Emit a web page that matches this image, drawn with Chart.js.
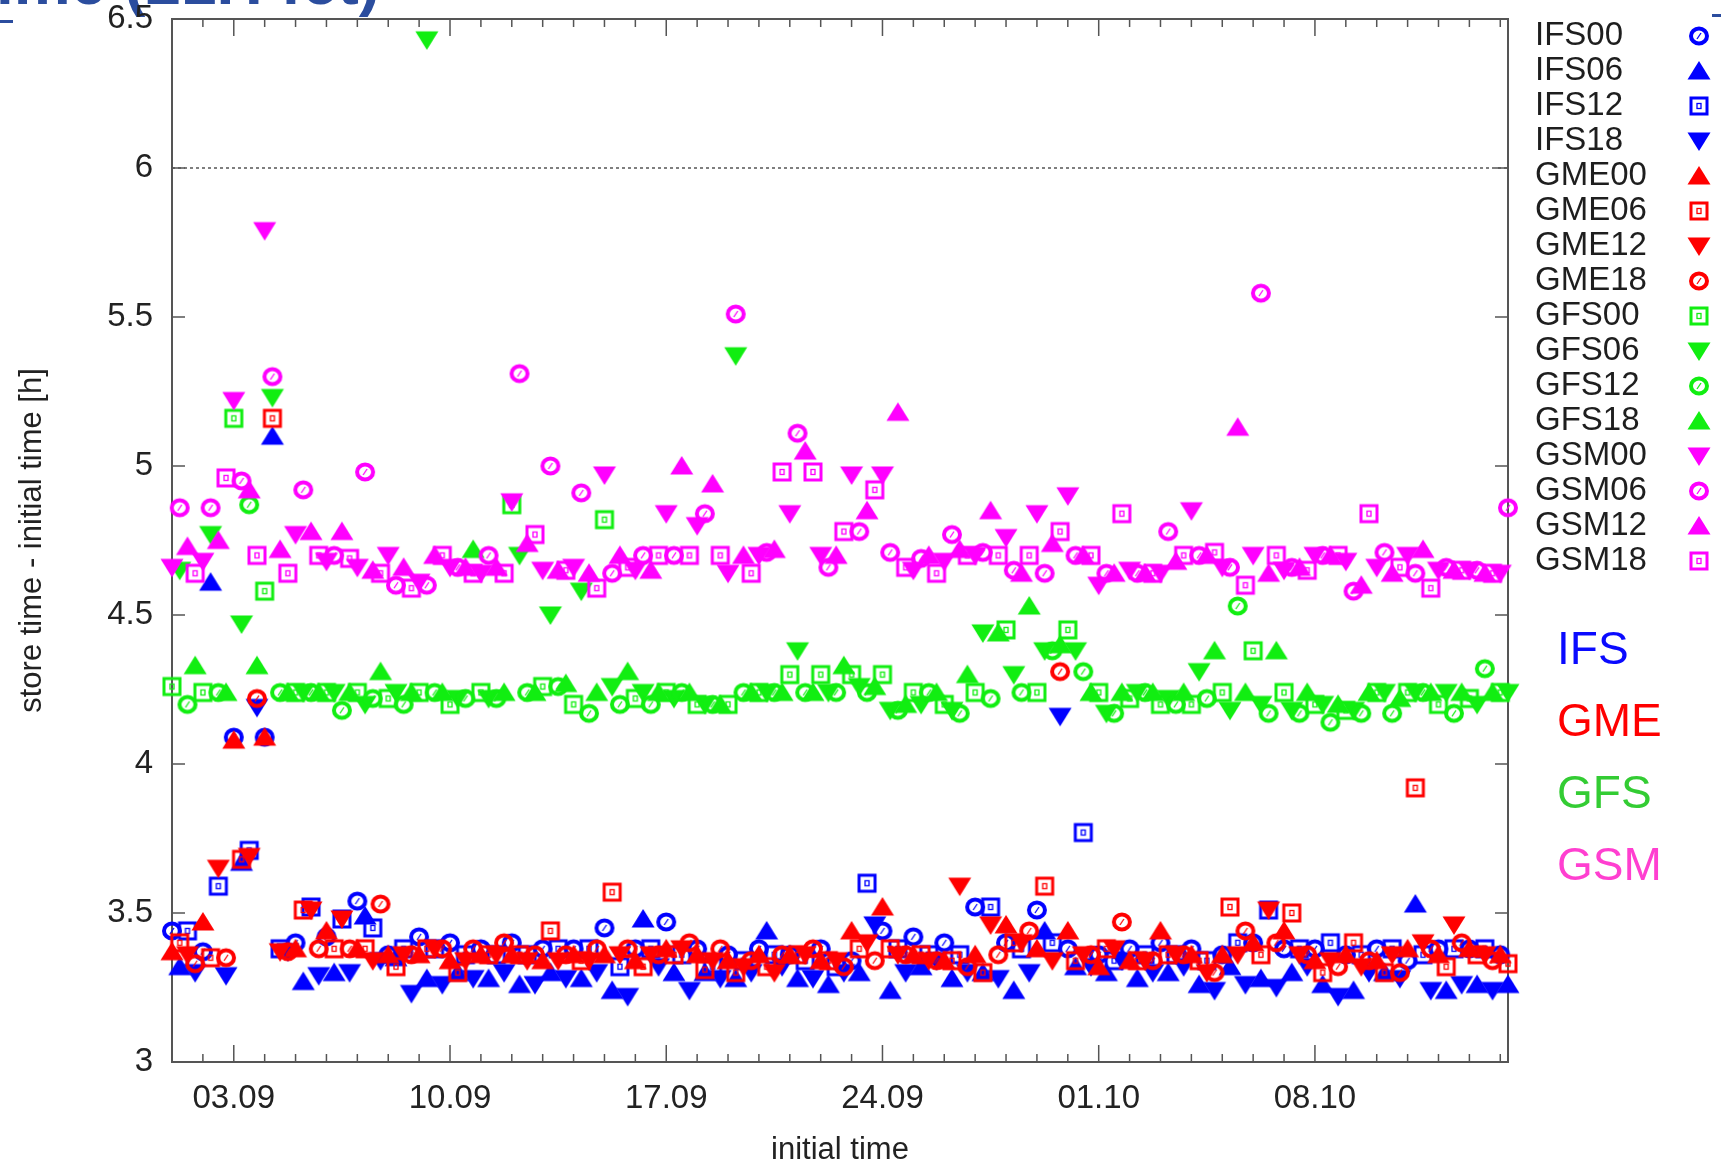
<!DOCTYPE html>
<html>
<head>
<meta charset="utf-8">
<script src="https://cdn.jsdelivr.net/npm/chart.js@4.4.1/dist/chart.umd.min.js"></script>
<style>
  html, body { margin: 0; padding: 0; background: #fff; overflow: hidden; }
  #wrap { position: relative; width: 1721px; height: 1161px; }
  #storeChart { position: absolute; left: 0; top: 0; }
  .slideTitle { position: absolute; left: -4px; top: -50px; font: bold 64px "Liberation Sans", Arial, sans-serif;
                line-height: 64px; color: #2b4d9e; white-space: nowrap; }
  .dash { position: absolute; background: #2b4d9e; height: 3px; }
</style>
</head>
<body>
<div id="wrap">
  <div class="slideTitle">ime (21H fct)</div>
  <div class="dash" style="left:0;top:20px;width:13px"></div>
  <div class="dash" style="left:1712px;top:14px;width:9px"></div>
  <canvas id="storeChart" width="1721" height="1161"></canvas>
</div>
<script>
// store time - initial time [h], one value per day from 01.09 (index 0) to 14.10 (index 43)
const ifs00 = [3.44,3.37,4.09,4.09,3.40,3.42,3.54,3.36,3.42,3.40, 3.38,3.40,3.38,3.38,3.45,3.38,3.47,3.38,3.36,3.38, 3.36,3.38,3.34,3.44,3.42,3.40,3.52,3.40,3.51,3.38, 3.36,3.38,3.40,3.38,3.36,3.40,3.38,3.38,3.36,3.38, 3.34,3.38,3.38,3.36];
const ifs06 = [3.32,4.61,3.67,5.10,3.27,3.30,3.49,3.35,3.28,3.30, 3.28,3.26,3.30,3.28,3.24,3.48,3.30,3.30,3.28,3.44, 3.28,3.26,3.30,3.24,3.32,3.28,3.30,3.24,3.44,3.32, 3.30,3.28,3.30,3.26,3.32,3.28,3.30,3.26,3.24,3.30, 3.53,3.24,3.26,3.26];
const ifs12 = [3.44,3.59,3.71,3.38,3.52,3.48,3.45,3.38,3.38,3.36, 3.36,3.36,3.38,3.38,3.32,3.38,3.36,3.32,3.34,3.36, 3.34,3.32,3.60,3.38,3.36,3.36,3.52,3.38,3.40,3.77, 3.34,3.36,3.36,3.34,3.40,3.51,3.38,3.40,3.36,3.38, 3.36,3.38,3.38,null];
const ifs18 = [3.30,3.29,4.19,3.37,3.29,3.30,3.34,3.23,3.26,3.28, 3.30,3.26,3.28,3.30,3.22,3.32,3.24,3.28,3.30,3.32, 3.28,3.30,3.46,3.30,3.34,3.30,3.28,3.30,4.16,3.32, 3.34,3.30,3.32,3.24,3.26,3.25,3.32,3.22,3.30,3.28, 3.24,3.26,3.24,null];
const gme00 = [3.37,3.47,4.08,4.09,3.38,3.44,3.38,3.36,3.36,3.34, 3.36,3.36,3.34,3.36,3.36,3.34,3.38,3.36,3.34,3.36, 3.36,3.34,3.44,3.52,3.36,3.34,3.36,3.46,3.38,3.44, 3.32,3.34,3.44,3.36,3.36,3.40,3.44,3.34,3.36,3.34, 3.38,3.36,3.38,3.36];
const gme06 = [3.40,3.35,3.68,5.16,3.51,3.38,3.38,3.32,3.38,3.30, 3.36,3.36,3.44,3.34,3.57,3.32,3.36,3.31,3.30,3.32, 3.36,3.34,3.38,3.38,3.36,3.34,3.30,3.40,3.59,3.34, 3.38,3.34,3.36,3.34,3.52,3.36,3.50,3.30,3.40,3.30, 3.92,3.32,3.36,3.33];
const gme12 = [3.36,3.65,3.69,3.37,3.51,3.48,3.34,3.36,3.38,3.34, 3.36,3.34,3.34,3.34,3.36,3.36,3.38,3.34,3.32,3.30, 3.36,3.34,3.40,3.36,3.34,3.59,3.46,3.40,3.34,3.36, 3.38,3.34,3.36,3.30,3.36,3.51,3.36,3.34,3.32,3.36, 3.40,3.46,3.36,null];
const gme18 = [3.33,3.35,4.22,3.37,3.38,3.38,3.53,3.36,3.38,3.38, 3.40,3.36,3.36,3.38,3.38,3.36,3.40,3.38,3.34,3.36, 3.38,3.32,3.34,3.36,3.34,3.32,3.36,3.44,4.31,3.36, 3.47,3.34,3.36,3.30,3.44,3.40,3.36,3.32,3.34,3.30, 3.38,3.40,3.34,null];
const gfs00 = [4.26,4.24,5.16,4.58,4.24,4.24,4.24,4.22,4.24,4.20, 4.24,4.87,4.26,4.20,4.82,4.22,4.24,4.20,4.20,4.24, 4.30,4.30,4.30,4.30,4.24,4.20,4.24,4.45,4.24,4.45, 4.24,4.22,4.20,4.20,4.24,4.38,4.24,4.20,4.18,4.24, 4.24,4.20,4.22,4.24];
const gfs06 = [4.65,4.77,4.47,5.23,4.24,4.24,4.20,4.24,6.43,4.22, 4.22,4.70,4.50,4.58,4.26,4.24,4.22,4.20,5.37,4.24, 4.38,4.24,4.26,4.18,4.20,4.18,4.44,4.30,4.38,4.38, 4.17,4.24,4.22,4.31,4.18,4.20,4.18,4.20,4.18,4.24, 4.24,4.24,4.20,4.24];
const gfs12 = [4.20,4.24,4.87,4.24,4.24,4.18,4.22,4.20,4.24,4.22, 4.22,4.24,4.26,4.17,4.20,4.20,4.24,4.20,4.24,4.24, 4.24,4.24,4.24,4.18,4.24,4.17,4.22,4.24,4.38,4.31, 4.17,4.24,4.20,4.22,4.53,4.17,4.17,4.14,4.17,4.17, 4.24,4.17,4.32,null];
const gfs18 = [4.33,4.24,4.33,4.24,4.24,4.24,4.31,4.24,4.24,4.72, 4.24,4.24,4.27,4.24,4.31,4.24,4.24,4.20,4.24,4.24, 4.24,4.33,4.26,4.20,4.24,4.30,4.44,4.53,4.40,4.24, 4.24,4.24,4.24,4.38,4.24,4.38,4.24,4.20,4.24,4.22, 4.24,4.24,4.24,null];
const gsm00 = [4.66,4.68,5.22,5.79,4.77,4.68,4.66,4.70,4.61,4.66, 4.64,4.88,4.65,4.66,4.97,4.65,4.84,4.80,4.64,4.70, 4.84,4.70,4.97,4.97,4.65,4.68,4.70,4.76,4.84,4.90, 4.60,4.65,4.64,4.85,4.66,4.70,4.65,4.70,4.68,4.66, 4.70,4.65,4.65,4.64];
const gsm06 = [4.86,4.86,4.95,5.30,4.92,4.70,4.98,4.60,4.60,4.66, 4.70,5.31,5.00,4.91,4.64,4.70,4.70,4.84,5.51,4.71, 5.11,4.66,4.78,4.71,4.69,4.77,4.71,4.65,4.64,4.70, 4.64,4.64,4.78,4.70,4.66,5.58,4.66,4.70,4.58,4.71, 4.64,4.66,4.65,4.86];
const gsm12 = [4.73,4.75,4.92,4.72,4.78,4.78,4.65,4.66,4.70,4.66, 4.66,4.74,4.65,4.64,4.70,4.65,5.00,4.94,4.70,4.72, 5.05,4.70,4.85,5.18,4.70,4.72,4.85,4.64,4.74,4.70, 4.64,4.64,4.68,4.70,5.13,4.64,4.66,4.70,4.60,4.64, 4.72,4.65,4.64,null];
const gsm18 = [4.64,4.96,4.70,4.64,4.70,4.69,4.64,4.59,4.70,4.64, 4.64,4.77,4.65,4.59,4.66,4.70,4.70,4.70,4.64,4.98, 4.98,4.78,4.92,4.66,4.64,4.70,4.70,4.70,4.78,4.70, 4.84,4.64,4.70,4.71,4.60,4.70,4.65,4.70,4.84,4.66, 4.59,4.65,4.64,null];

const seriesNames = ['IFS00','IFS06','IFS12','IFS18','GME00','GME06','GME12','GME18',
                     'GFS00','GFS06','GFS12','GFS18','GSM00','GSM06','GSM12','GSM18'];
const seriesValues = [ifs00, ifs06, ifs12, ifs18, gme00, gme06, gme12, gme18,
                      gfs00, gfs06, gfs12, gfs18, gsm00, gsm06, gsm12, gsm18];
const seriesShapes = ['circle','up','square','down', 'up','square','down','circle',
                      'square','down','circle','up', 'down','circle','up','square'];
const models = ['IFS', 'GME', 'GFS', 'GSM'];
const modelColors = ['#0000ff', '#ff0000', '#11ee11', '#ff00ff'];
const modelLabelColors = ['#0a0aff', '#ff0000', '#33cc33', '#ff3fd0'];

const xTickDays = [2, 9, 16, 23, 30, 37];
const xTickLabels = ['03.09', '10.09', '17.09', '24.09', '01.10', '08.10'];
const yTicks = [3, 3.5, 4, 4.5, 5, 5.5, 6, 6.5];
const yTickLabels = ['3', '3.5', '4', '4.5', '5', '5.5', '6', '6.5'];
const refLine = 6;

const FONT = '"Liberation Sans", Arial, Helvetica, sans-serif';

function makeMarker(shape, color) {
  const c = document.createElement('canvas');
  c.width = 28; c.height = 28;
  const g = c.getContext('2d');
  const m = 14;
  g.strokeStyle = color;
  g.fillStyle = color;
  if (shape === 'circle') {
    g.lineWidth = 4;
    g.beginPath(); g.ellipse(m, m, 8, 7.5, 0, 0, Math.PI * 2); g.stroke();
    g.lineWidth = 1.3;
    g.beginPath(); g.moveTo(m - 2, m + 3); g.lineTo(m + 2, m - 3); g.stroke();
  } else if (shape === 'square') {
    g.lineWidth = 3;
    g.strokeRect(m - 8, m - 8, 16, 16);
    g.lineWidth = 1.3;
    g.strokeRect(m - 2, m - 2.5, 4, 5);
  } else if (shape === 'up') {
    g.beginPath(); g.moveTo(m, m - 10); g.lineTo(m + 11.5, m + 8.5); g.lineTo(m - 11.5, m + 8.5); g.closePath(); g.fill();
  } else {
    g.beginPath(); g.moveTo(m, m + 10); g.lineTo(m + 11.5, m - 8.5); g.lineTo(m - 11.5, m - 8.5); g.closePath(); g.fill();
  }
  return c;
}

const datasets = seriesNames.map((name, i) => {
  const hour = parseInt(name.slice(3), 10);
  const color = modelColors[Math.floor(i / 4)];
  const pts = [];
  seriesValues[i].forEach((v, d) => { if (v !== null) pts.push({ x: d + hour / 24, y: v }); });
  return {
    label: name,
    data: pts,
    pointStyle: makeMarker(seriesShapes[i], color),
    pointRadius: 10,
    borderColor: color,
    backgroundColor: color,
    showLine: false,
    clip: false,
    order: seriesNames.length - i
  };
});

const framePlugin = {
  id: 'frame',
  beforeDatasetsDraw(chart) {
    const { ctx, chartArea: a, scales: { x, y } } = chart;
    ctx.save();
    ctx.strokeStyle = '#555';
    // dotted reference line
    const y6 = y.getPixelForValue(refLine);
    ctx.lineWidth = 1.5;
    ctx.setLineDash([3, 3]);
    ctx.beginPath(); ctx.moveTo(a.left, y6); ctx.lineTo(a.right, y6); ctx.stroke();
    ctx.setLineDash([]);
    ctx.lineWidth = 2;
    ctx.strokeRect(a.left, a.top, a.right - a.left, a.bottom - a.top);
    ctx.lineWidth = 1.5;
    ctx.beginPath();
    for (let d = 1; d <= Math.floor(x.max); d++) {
      const px = x.getPixelForValue(d);
      const len = xTickDays.includes(d) ? 17 : 8;
      ctx.moveTo(px, a.bottom); ctx.lineTo(px, a.bottom - len);
      ctx.moveTo(px, a.top); ctx.lineTo(px, a.top + len);
    }
    yTicks.forEach(v => {
      const py = y.getPixelForValue(v);
      ctx.moveTo(a.left, py); ctx.lineTo(a.left + 13, py);
      ctx.moveTo(a.right, py); ctx.lineTo(a.right - 13, py);
    });
    ctx.stroke();
    ctx.restore();
  }
};

const legendPlugin = {
  id: 'sideLegend',
  afterDraw(chart) {
    const ctx = chart.ctx;
    ctx.save();
    ctx.textBaseline = 'middle';
    ctx.textAlign = 'left';
    ctx.font = '33px ' + FONT;
    ctx.fillStyle = '#1e1e1e';
    chart.data.datasets.forEach((ds, i) => {
      const ly = 36 + i * 35;
      ctx.fillText(ds.label, 1535, ly);
      const img = ds.pointStyle;
      ctx.drawImage(img, 1699 - img.width / 2, ly - img.height / 2);
    });
    ctx.font = '46px ' + FONT;
    models.forEach((m, i) => {
      ctx.fillStyle = modelLabelColors[i];
      ctx.fillText(m, 1557, 651 + i * 72);
    });
    ctx.restore();
  }
};

new Chart(document.getElementById('storeChart'), {
  type: 'scatter',
  data: { datasets: datasets },
  options: {
    responsive: false,
    animation: false,
    devicePixelRatio: 1,
    layout: { padding: { top: 19, right: 213, bottom: 0, left: 0 } },
    plugins: { legend: { display: false }, tooltip: { enabled: false } },
    scales: {
      x: {
        type: 'linear',
        min: 0,
        max: 43.25,
        grid: { display: false, drawTicks: false },
        border: { display: false },
        afterBuildTicks: s => { s.ticks = xTickDays.map(v => ({ value: v })); },
        afterFit: s => { s.height = 99; s.paddingLeft = 0; s.paddingRight = 0; },
        ticks: {
          autoSkip: false,
          maxRotation: 0,
          padding: 20,
          color: '#222',
          font: { family: FONT, size: 33, lineHeight: 1 },
          callback: v => xTickLabels[xTickDays.indexOf(v)]
        },
        title: {
          display: true,
          text: 'initial time',
          color: '#222',
          font: { family: FONT, size: 31 },
          padding: { top: 0, bottom: -8 }
        }
      },
      y: {
        type: 'linear',
        min: 3,
        max: 6.5,
        grid: { display: false, drawTicks: false },
        border: { display: false },
        afterBuildTicks: s => { s.ticks = yTicks.map(v => ({ value: v })); },
        afterFit: s => { s.width = 172; s.paddingTop = 0; s.paddingBottom = 0; },
        ticks: {
          padding: 19,
          color: '#222',
          font: { family: FONT, size: 33, lineHeight: 1 },
          callback: v => yTickLabels[yTicks.indexOf(v)]
        },
        title: {
          display: true,
          text: 'store time - initial time [h]',
          color: '#222',
          font: { family: FONT, size: 31 },
          padding: { top: 14, bottom: 0 }
        }
      }
    }
  },
  plugins: [framePlugin, legendPlugin]
});
</script>
</body>
</html>
